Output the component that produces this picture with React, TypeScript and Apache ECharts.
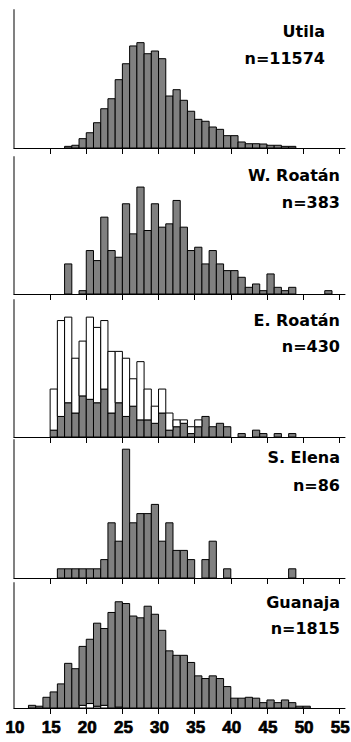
import React, { useEffect, useRef } from "react";
import * as echarts from "echarts";

// ---- Data (counts per 1-unit size bin; bins start at the given lower edge) ----
const utilaStart = 17;
const utilaCounts = [17, 28, 96, 157, 260, 404, 507, 703, 867, 1050, 1084, 970, 998, 919, 535, 600, 491, 378, 295, 275, 216, 192, 127, 127, 62, 44, 44, 41, 28, 28, 17, 17];

const wRoatanStart = 17;
const wRoatanCounts = [9, 0, 1, 13, 10, 23, 13, 11, 27, 18, 32, 19, 27, 20, 21, 28, 20, 13, 14, 9, 13, 9, 7, 7, 5, 2, 3, 1, 6, 2, 1, 2, 0, 0, 0, 0, 1];

const eRoatanStart = 15;
const eRoatanGrey = [2, 6, 10, 7, 12, 11, 10, 14, 7, 10, 6, 9, 5, 5, 4, 7, 2, 3, 4, 1, 3, 6, 3, 4, 3, 0, 1, 0, 2, 1, 0, 1, 0, 1];
const eRoatanWhite = [12, 28, 25, 16, 16, 24, 22, 20, 18, 15, 17, 8, 17, 9, 5, 7, 5, 2, 1, 2, 2, 0, 0, 0, 0, 0, 0, 0, 0, 0, 0, 0, 0, 0];

const sElenaStart = 16;
const sElenaCounts = [1, 1, 1, 1, 1, 1, 2, 6, 4, 14, 6, 7, 7, 8, 4, 6, 3, 3, 2, 0, 2, 4, 0, 1, 0, 0, 0, 0, 0, 0, 0, 0, 1];

const guanajaStart = 12;
const guanajaWhite = [0, 0, 0, 0, 0, 0, 0, 3, 5, 2, 3, 0, 1, 0, 0, 0, 0, 0, 0, 0, 0, 0, 0, 0, 0, 0, 0, 0, 0, 0, 0, 0, 0, 0, 0, 0, 0, 0, 0];
const guanajaGrey = [3, 2, 12, 18, 27, 50, 44, 66, 72, 93, 86, 107, 118, 117, 103, 101, 114, 105, 87, 64, 59, 59, 51, 36, 33, 36, 33, 24, 11, 11, 12, 11, 6, 9, 6, 9, 6, 2, 2];

const panelNames = ["Utila", "W. Roatán", "E. Roatán", "S. Elena", "Guanaja"];
const panelN = ["n=11574", "n=383", "n=430", "n=86", "n=1815"];
const panelYMax = [1420, 41, 40, 15, 140];

const xMin = 10;
const xMax = 55.8;
const xTickValues = [15, 20, 25, 30, 35, 40, 45, 50, 55];
const xLabelValues = [10, 15, 20, 25, 30, 35, 40, 45, 50, 55];

// ---- Layout ----
const gridTops = [10, 157, 300, 440, 583];
const gridHeights = [138, 137, 137, 138, 125];
const titleRight = [325, 340, 340, 340, 340];
const titleY1 = [31, 175, 320, 457, 602];
const titleY2 = [58, 202, 346, 485, 628];
const labelGap = 11;

const GREY = "#808080";
const WHITE = "#ffffff";

type Seg = [number, number, number];

// stacked segments: [binStart, base, top]
function segments(start: number, lower: number[], upper?: number[]): Seg[] {
  const out: Seg[] = [];
  lower.forEach((v, i) => {
    const base = upper ? upper[i] : 0;
    if (v > 0) out.push([start + i, base, base + v]);
  });
  return out;
}

function renderRect(fill: string) {
  return (params: any, api: any) => {
    const x0 = api.value(0);
    const b = api.value(1);
    const t = api.value(2);
    const p0 = api.coord([x0, b]);
    const p1 = api.coord([x0 + 1, t]);
    return {
      type: "rect",
      shape: { x: p0[0], y: p1[1], width: p1[0] - p0[0], height: p0[1] - p1[1] },
      style: { fill, stroke: "#000", lineWidth: 1 },
    };
  };
}

// tick labels for the bottom axis, placed through the axis scale
function renderTickLabel(params: any, api: any) {
  const v = api.value(0);
  const p = api.coord([v, 0]);
  return {
    type: "text",
    x: p[0] + 1,
    y: p[1] + labelGap,
    style: {
      text: String(v),
      fill: "#000",
      stroke: "#000",
      lineWidth: 0.7,
      font: "bold 17px 'Liberation Sans', Arial, sans-serif",
      textAlign: "center",
      textVerticalAlign: "top",
    },
  };
}

export default function App() {
  const ref = useRef<HTMLDivElement>(null);

  useEffect(() => {
    document.body.style.margin = "0";
    const chart = echarts.init(ref.current!, undefined, { renderer: "svg" });

    const grids = gridTops.map((top, i) => ({
      left: 14,
      right: 6,
      top,
      height: gridHeights[i],
    }));

    const xAxes = gridTops.map((_, i) => ({
      type: "value",
      gridIndex: i,
      min: xMin,
      max: xMax,
      interval: 5,
      axisLine: { show: true, onZero: false, lineStyle: { color: "#000", width: 1 } },
      axisTick: {
        show: true,
        inside: false,
        length: 6,
        customValues: xTickValues,
        lineStyle: { color: "#000", width: 1 },
      },
      axisLabel: { show: false },
      splitLine: { show: false },
    }));

    const yAxes = gridTops.map((_, i) => ({
      type: "value",
      gridIndex: i,
      min: 0,
      max: panelYMax[i],
      axisLine: { show: true, lineStyle: { color: "#808080", width: 2 } },
      axisTick: { show: false },
      axisLabel: { show: false },
      splitLine: { show: false },
    }));

    const mk = (i: number, data: Seg[], fill: string, z = 2) => ({
      type: "custom",
      xAxisIndex: i,
      yAxisIndex: i,
      renderItem: renderRect(fill),
      data,
      encode: { x: 0, y: [1, 2] },
      z,
      clip: false,
    });

    const series: any[] = [
      mk(0, segments(utilaStart, utilaCounts), GREY),
      mk(1, segments(wRoatanStart, wRoatanCounts), GREY),
      mk(2, segments(eRoatanStart, eRoatanGrey), GREY),
      mk(2, segments(eRoatanStart, eRoatanWhite, eRoatanGrey), WHITE),
      mk(3, segments(sElenaStart, sElenaCounts), GREY),
      mk(4, segments(guanajaStart, guanajaWhite), WHITE),
      mk(4, segments(guanajaStart, guanajaGrey, guanajaWhite), GREY),
      {
        type: "custom",
        xAxisIndex: 4,
        yAxisIndex: 4,
        renderItem: renderTickLabel,
        data: xLabelValues.map((v) => [v, 0]),
        encode: { x: 0, y: 1 },
        clip: false,
        silent: true,
      },
    ];

    const graphic: any[] = [];
    panelNames.forEach((name, i) => {
      const common = {
        fill: "#000",
        font: "bold 16px 'DejaVu Sans', sans-serif",
        textAlign: "right",
        textVerticalAlign: "middle",
      };
      graphic.push({ type: "text", x: titleRight[i], y: titleY1[i], style: { ...common, text: name } });
      graphic.push({ type: "text", x: titleRight[i], y: titleY2[i], style: { ...common, text: panelN[i] } });
    });

    chart.setOption({
      animation: false,
      backgroundColor: "#fff",
      grid: grids,
      xAxis: xAxes,
      yAxis: yAxes,
      series,
      graphic,
    } as any);

    return () => chart.dispose();
  }, []);

  return (
    <div
      ref={ref}
      style={{ position: "absolute", left: 0, top: 0, width: 351, height: 742, background: "#fff" }}
    />
  );
}
